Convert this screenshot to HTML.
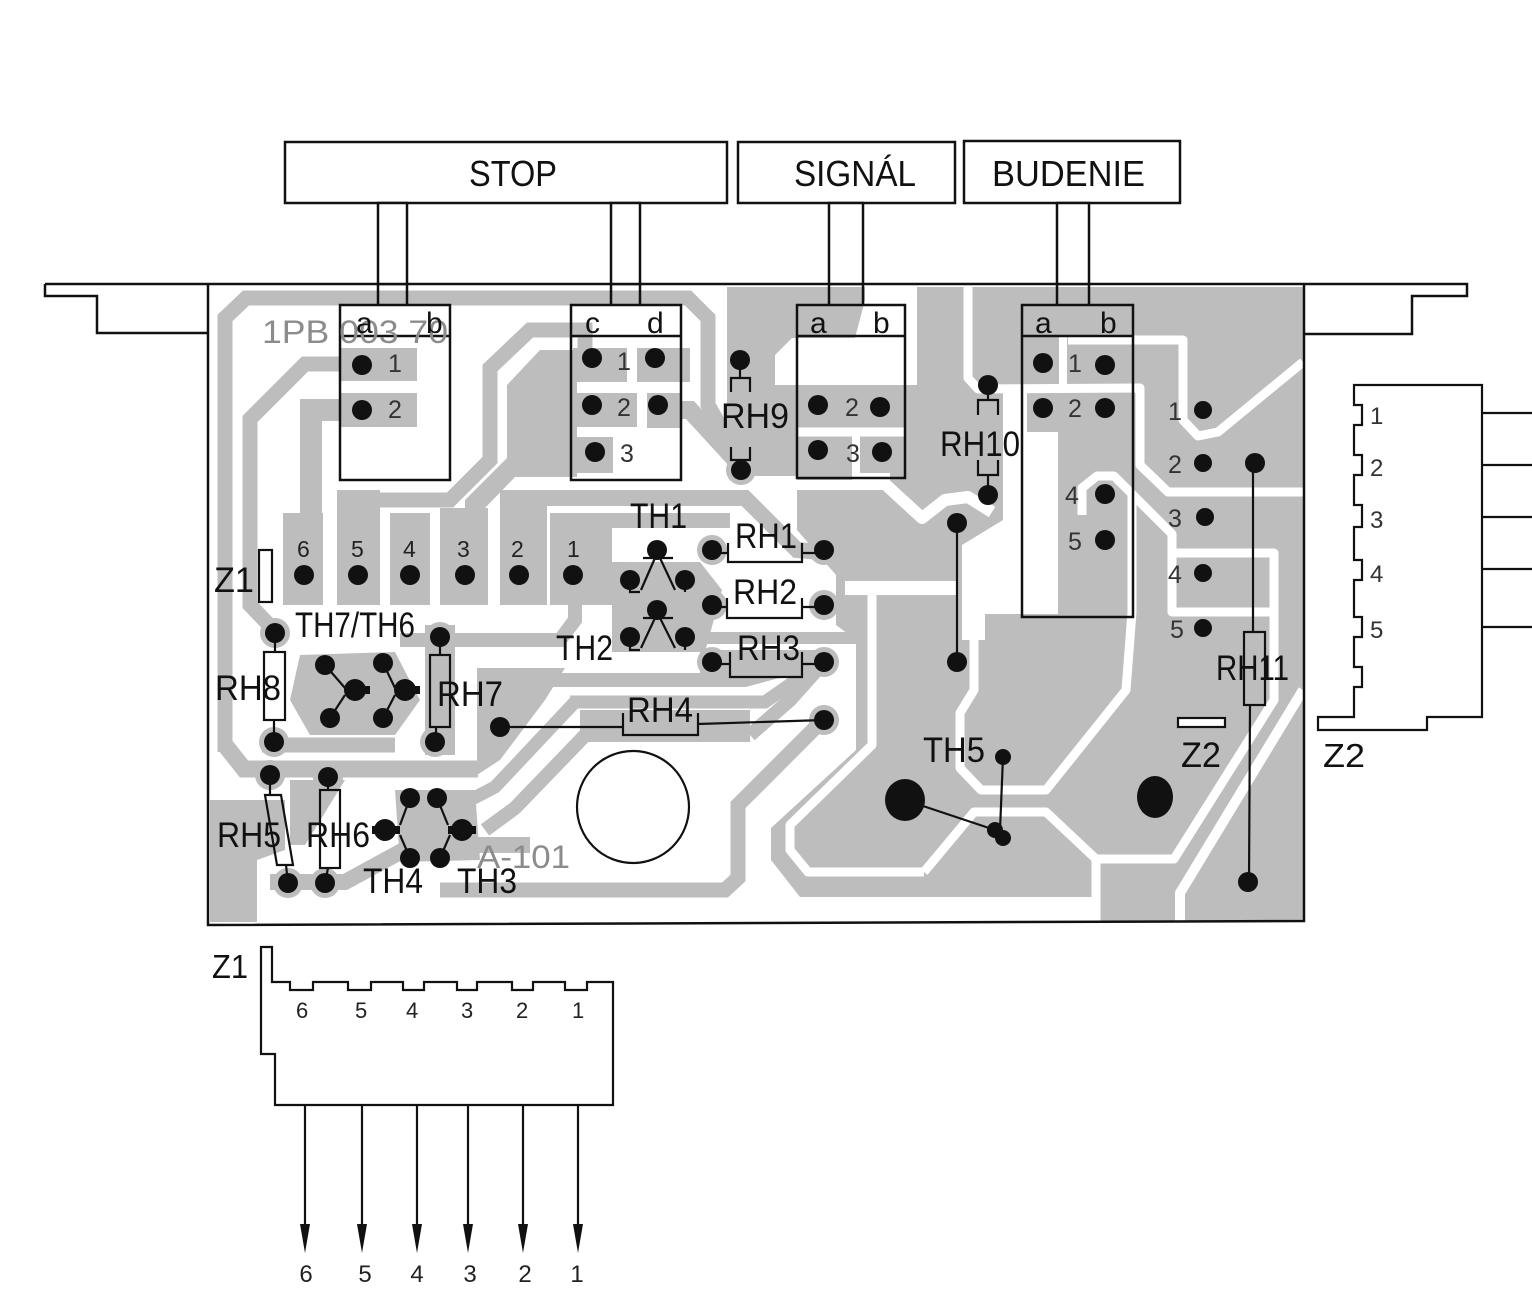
<!DOCTYPE html>
<html><head><meta charset="utf-8"><style>
html,body{margin:0;padding:0;background:#fff;}
svg{display:block;}
text{font-family:"Liberation Sans",sans-serif;}
</style></head><body>
<svg width="1532" height="1303" viewBox="0 0 1532 1303" xmlns="http://www.w3.org/2000/svg">
<defs><clipPath id="bd"><rect x="209" y="285" width="1094" height="638"/></clipPath></defs>
<rect width="1532" height="1303" fill="#fff"/>

<!-- BOARD COPPER -->
<g clip-path="url(#bd)">
<g fill="#bdbdbd" stroke="none">
  <!-- right big area -->
  <polygon points="727,287 1303,287 1303,922 1096,922 1096,897 800,897 771,860 771,828 856,750 856,640 836,625 836,575 797,530 797,476 727,476"/>
</g>
<!-- white cut-outs in right area -->
<g fill="#fff" stroke="none">
  <polygon points="775,385 775,355 792,338 855,338 865,300 865,287 917,287 917,385"/>
  <rect x="852" y="468" width="38" height="14"/>
  <polygon points="1003,392 1027,392 1027,432 1058,432 1058,614 985,614 985,640 962,640 962,545 1003,520"/>
  <rect x="258" y="897" width="838" height="27"/>
</g>
<g fill="none" stroke="#fff" stroke-linejoin="round" stroke-linecap="butt">
  <polyline stroke-width="9" points="797,432 904,432"/>
  <polyline stroke-width="8" points="856,436 856,478"/>
  <polyline stroke-width="12" points="727,484 885,484 922,518 945,500 968,497 992,512"/>
  <polyline stroke-width="9" points="968,287 968,378 978,389 1140,388 1140,465 1168,492 1303,492"/>
  <polyline stroke-width="8" points="1063,337 1063,386"/>
  <polyline stroke-width="9" points="1068,340 1183,340 1183,420 1198,436 1218,432 1303,362"/>
  <polyline stroke-width="9" points="1082,515 1082,488 1097,476 1114,476 1132,494 1172,534 1172,612 1274,612 1274,553 1172,553"/>
  <polyline stroke-width="9" points="1132,494 1132,612 1126,690 1046,790 981,790 960,768 960,713 974,690 974,640"/>
  <polyline stroke-width="9" points="924,872 974,812 1046,812 1096,859 1174,859 1274,700 1274,612"/>
  <polyline stroke-width="10" points="1303,690 1180,893 1180,922"/>
  <polyline stroke-width="9" points="1096,859 1096,922"/>
  <polyline stroke-width="14" points="845,588 957,588"/>
  <polyline stroke-width="9" points="872,595 872,745 790,825 790,850 808,872 924,872"/>
</g>

<!-- left / middle traces -->
<g fill="#bdbdbd" stroke="none">
  <rect x="340" y="348" width="77" height="33"/>
  <rect x="340" y="393" width="77" height="34"/>
  <rect x="283" y="513" width="40" height="92"/>
  <rect x="337" y="490" width="43" height="115"/>
  <rect x="390" y="513" width="40" height="92"/>
  <rect x="440" y="508" width="48" height="97"/>
  <rect x="500" y="490" width="47" height="115"/>
  <rect x="553" y="513" width="57" height="92"/>
  <polygon points="507,385 540,350 577,350 577,477 515,477 485,508 465,508 465,500 507,458"/>
  <rect x="573" y="348" width="54" height="34"/>
  <rect x="637" y="348" width="53" height="34"/>
  <rect x="577" y="393" width="60" height="34"/>
  <rect x="647" y="393" width="35" height="35"/>
  <rect x="577" y="437" width="36" height="36"/>
  <rect x="797" y="387" width="105" height="40"/>
  <rect x="797" y="437" width="55" height="43"/>
  <rect x="860" y="437" width="42" height="36"/>
  <polygon points="550,513 730,513 730,528 612,528 612,605 550,605"/>
  <polygon points="612,562 700,562 722,590 705,652 612,652"/>
  <rect x="700" y="650" width="115" height="27"/>
  <polygon points="477,668 565,668 545,700 500,760 477,775"/>
  <rect x="580" y="710" width="170" height="32"/>
  <polygon points="300,655 395,652 420,700 395,735 310,735 290,700"/>
  <rect x="425" y="625" width="30" height="130"/>
  <polygon points="210,800 285,800 285,850 257,860 257,922 210,922"/>
  <polygon points="290,780 345,780 305,845 290,845"/>
  <polygon points="395,790 475,790 480,860 400,862"/>
</g>
<g fill="none" stroke="#bdbdbd" stroke-linejoin="miter">
  <polyline stroke-width="15" points="225,752 225,318 246,298 688,298 708,318 708,405 745,470"/>
  <polyline stroke-width="17" points="225,745 244,769 478,769"/>
  <polyline stroke-width="15" points="345,364 305,364 250,419 250,605 272,628"/>
  <polyline stroke-width="22" points="345,410 311,410 311,520"/>
  <polyline stroke-width="15" points="358,500 450,500 490,460 490,368 530,330 585,330 585,352"/>
  <polyline stroke-width="18" points="670,410 690,410 745,470"/>
  <polyline stroke-width="16" points="523,605 523,498 745,498 797,550 822,552"/>
  <polyline stroke-width="12" points="690,638 856,638"/>
  <polyline stroke-width="14" points="477,680 745,680 800,665"/>
  <polyline stroke-width="13" points="570,702 765,702 815,667"/>
  <polyline stroke-width="13" points="575,702 495,787 470,800"/>
  <polyline stroke-width="14" points="595,725 515,808 485,830"/>
  <polyline stroke-width="14" points="824,662 790,700 750,735"/>
  <polyline stroke-width="15" points="823,720 738,805 738,878 725,890 440,890"/>
  <polyline stroke-width="14" points="400,640 560,640 575,620 575,605"/>
  <polyline stroke-width="15" points="262,745 395,745"/>
  <polyline stroke-width="16" points="270,882 345,882 413,845 530,845"/>
</g>
<!-- pad rings -->
<g fill="#bdbdbd">
  <circle cx="712" cy="550" r="15"/><circle cx="824" cy="550" r="15"/>
  <circle cx="712" cy="605" r="15"/><circle cx="824" cy="605" r="15"/>
  <circle cx="712" cy="662" r="15"/><circle cx="824" cy="662" r="15"/>
  <circle cx="500" cy="727" r="15"/><circle cx="824" cy="720" r="15"/>
  <circle cx="741" cy="470" r="15"/><circle cx="957" cy="523" r="15"/>
  <circle cx="275" cy="633" r="15"/><circle cx="274" cy="742" r="15"/>
  <circle cx="440" cy="637" r="15"/><circle cx="435" cy="742" r="15"/>
  <circle cx="270" cy="775" r="15"/><circle cx="328" cy="777" r="15"/>
  <circle cx="288" cy="883" r="15"/><circle cx="325" cy="883" r="15"/>
  <circle cx="630" cy="580" r="14"/><circle cx="685" cy="580" r="14"/>
  <circle cx="630" cy="637" r="14"/><circle cx="685" cy="637" r="14"/>
</g>
</g>

<!-- PANEL & BOARD OUTLINE -->
<g fill="none" stroke="#111" stroke-width="2.5" stroke-linejoin="miter">
  <path d="M45,284 H1467 V296 H1412 V334 H1305"/>
  <path d="M45,284 V296 H97 V333 H207"/>
  <path d="M208,284 V925 L1304,921 V284"/>
</g>

<!-- BUTTONS -->
<g fill="#fff" stroke="#111" stroke-width="2.5">
  <rect x="285" y="142" width="442" height="61"/>
  <rect x="738" y="142" width="217" height="61"/>
  <rect x="964" y="141" width="216" height="62"/>
  <rect x="378" y="203" width="29" height="81"/>
  <rect x="611" y="203" width="29" height="81"/>
  <rect x="829" y="203" width="34" height="81"/>
  <rect x="1057" y="203" width="32" height="81"/>
</g>
<g stroke="#111" stroke-width="2.5">
  <line x1="378" y1="284" x2="378" y2="305"/><line x1="407" y1="284" x2="407" y2="305"/>
  <line x1="611" y1="284" x2="611" y2="305"/><line x1="640" y1="284" x2="640" y2="305"/>
  <line x1="829" y1="284" x2="829" y2="305"/><line x1="863" y1="284" x2="863" y2="305"/>
  <line x1="1057" y1="284" x2="1057" y2="305"/><line x1="1089" y1="284" x2="1089" y2="305"/>
</g>
<g font-size="36" fill="#111">
  <text x="469" y="186" textLength="88" lengthAdjust="spacingAndGlyphs">STOP</text>
  <text x="794" y="186" textLength="122" lengthAdjust="spacingAndGlyphs">SIGNÁL</text>
  <text x="992" y="186" textLength="153" lengthAdjust="spacingAndGlyphs">BUDENIE</text>
</g>

<!-- SWITCH BOXES -->
<g fill="none" stroke="#111" stroke-width="2.5">
  <rect x="340" y="305" width="110" height="175"/><line x1="340" y1="336" x2="450" y2="336"/>
  <rect x="571" y="305" width="110" height="175"/><line x1="571" y1="336" x2="681" y2="336"/>
  <rect x="797" y="305" width="108" height="173"/><line x1="797" y1="336" x2="905" y2="336"/>
  <rect x="1022" y="305" width="111" height="312"/><line x1="1022" y1="336" x2="1133" y2="336"/>
</g>
<text x="262" y="343" font-size="32" fill="#8c8c8c" textLength="186" lengthAdjust="spacingAndGlyphs">1PB 003 70</text>
<g font-size="30" fill="#111">
  <text x="356" y="333">a</text><text x="426" y="333">b</text>
  <text x="585" y="333">c</text><text x="647" y="333">d</text>
  <text x="810" y="333">a</text><text x="873" y="333">b</text>
  <text x="1035" y="333">a</text><text x="1100" y="333">b</text>
</g>
<g font-size="25" fill="#333">
  <text x="388" y="372">1</text><text x="388" y="418">2</text>
  <text x="617" y="370">1</text><text x="617" y="416">2</text><text x="620" y="462">3</text>
  <text x="845" y="416">2</text><text x="846" y="462">3</text>
  <text x="1068" y="372">1</text><text x="1068" y="417">2</text><text x="1065" y="504">4</text><text x="1068" y="550">5</text>
  <text x="1168" y="420">1</text><text x="1168" y="473">2</text><text x="1168" y="527">3</text><text x="1168" y="583">4</text><text x="1170" y="638">5</text>
</g>
<g font-size="23" fill="#222">
  <text x="297" y="557">6</text><text x="351" y="557">5</text><text x="403" y="557">4</text>
  <text x="457" y="557">3</text><text x="511" y="557">2</text><text x="567" y="557">1</text>
</g>

<!-- COMPONENT OUTLINES -->
<g fill="none" stroke="#111" stroke-width="2.2">
  <rect x="259" y="550" width="13" height="52" fill="#fff"/>
  <rect x="1178" y="718" width="47" height="9" fill="#fff"/>
  <path d="M728,543 V562 H802 V543 M712,553 H728 M802,553 H824" />
  <path d="M727,598 V618 H802 V598 M712,607 H727 M802,607 H824" />
  <path d="M730,652 V677 H802 V652 M712,664 H730 M802,664 H824" />
  <path d="M623,713 V735 H698 V713 M500,727 H623 M698,724 L824,720" />
  <path d="M731,392 V378 H750 V392 M740,360 V378 M731,447 V460 H750 V447 M740,460 V470"/>
  <path d="M978,415 V400 H998 V415 M988,385 V400 M978,460 V475 H998 V460 M988,475 V495"/>
  <rect x="264" y="652" width="21" height="68"/><path d="M275,633 V652 M274,720 V742"/>
  <rect x="430" y="655" width="20" height="72"/><path d="M440,637 V655 M436,727 V742"/>
  <polygon points="265,795 281,795 293,865 277,865"/><path d="M270,775 V795 M286,865 L288,883"/>
  <rect x="320" y="790" width="20" height="78"/><path d="M328,777 V790 M328,868 L325,883"/>
  <path d="M1253,463 V632 M1250,705 L1249,882"/>
  <rect x="1244" y="632" width="21" height="73"/>
  <path d="M957,523 V662"/>
  <path d="M1003,757 L1000,830 M905,800 L995,830"/>
  <ellipse cx="633" cy="807" rx="56" ry="56"/>
  <path d="M643,558 H673 M655,558 L641,590 M660,558 L675,590 M630,580 V592 H640 M685,580 V592"/>
  <path d="M643,618 H673 M655,618 L641,648 M660,618 L675,648 M630,637 V650 H640 M685,637 V650"/>
  <path d="M325,665 L345,688 M330,718 L345,695 M383,663 L395,688 M383,718 L395,695"/>
  <path d="M410,798 L400,825 M437,798 L448,825 M410,858 L400,835 M440,858 L450,835"/>
</g>

<!-- PADS -->
<g fill="#111">
  <circle cx="362" cy="365" r="10"/><circle cx="362" cy="410" r="10"/>
  <circle cx="592" cy="358" r="10"/><circle cx="655" cy="358" r="10"/>
  <circle cx="592" cy="405" r="10"/><circle cx="658" cy="405" r="10"/><circle cx="595" cy="452" r="10"/>
  <circle cx="818" cy="405" r="10"/><circle cx="880" cy="407" r="10"/>
  <circle cx="818" cy="450" r="10"/><circle cx="882" cy="452" r="10"/>
  <circle cx="1043" cy="363" r="10"/><circle cx="1105" cy="365" r="10"/>
  <circle cx="1043" cy="408" r="10"/><circle cx="1105" cy="408" r="10"/>
  <circle cx="1105" cy="494" r="10"/><circle cx="1105" cy="540" r="10"/>
  <circle cx="1203" cy="410" r="9"/><circle cx="1203" cy="463" r="9"/><circle cx="1205" cy="517" r="9"/>
  <circle cx="1203" cy="573" r="9"/><circle cx="1203" cy="628" r="9"/>
  <circle cx="1255" cy="463" r="10"/><circle cx="1248" cy="882" r="10"/>
  <circle cx="740" cy="360" r="10"/><circle cx="741" cy="470" r="10"/>
  <circle cx="988" cy="385" r="10"/><circle cx="988" cy="495" r="10"/>
  <circle cx="957" cy="523" r="10"/><circle cx="957" cy="662" r="10"/>
  <circle cx="304" cy="575" r="10"/><circle cx="358" cy="575" r="10"/><circle cx="410" cy="575" r="10"/>
  <circle cx="465" cy="575" r="10"/><circle cx="519" cy="575" r="10"/><circle cx="573" cy="575" r="10"/>
  <circle cx="657" cy="550" r="10"/><circle cx="630" cy="580" r="10"/><circle cx="685" cy="580" r="10"/>
  <circle cx="657" cy="610" r="10"/><circle cx="630" cy="637" r="10"/><circle cx="685" cy="637" r="10"/>
  <circle cx="712" cy="550" r="10"/><circle cx="824" cy="550" r="10"/>
  <circle cx="712" cy="605" r="10"/><circle cx="824" cy="605" r="10"/>
  <circle cx="712" cy="662" r="10"/><circle cx="824" cy="662" r="10"/>
  <circle cx="500" cy="727" r="10"/><circle cx="824" cy="720" r="10"/>
  <circle cx="275" cy="633" r="10"/><circle cx="274" cy="742" r="10"/>
  <circle cx="440" cy="637" r="10"/><circle cx="435" cy="742" r="10"/>
  <circle cx="325" cy="665" r="10"/><circle cx="383" cy="663" r="10"/>
  <circle cx="330" cy="718" r="10"/><circle cx="383" cy="718" r="10"/>
  <circle cx="355" cy="690" r="11"/><circle cx="405" cy="690" r="11"/>
  <rect x="346" y="686" width="24" height="8"/><rect x="396" y="686" width="24" height="8"/>
  <circle cx="270" cy="775" r="10"/><circle cx="328" cy="777" r="10"/>
  <circle cx="288" cy="883" r="10"/><circle cx="325" cy="883" r="10"/>
  <circle cx="410" cy="798" r="10"/><circle cx="437" cy="798" r="10"/>
  <circle cx="385" cy="830" r="11"/><circle cx="462" cy="830" r="11"/>
  <rect x="372" y="826" width="28" height="8"/><rect x="448" y="826" width="28" height="8"/>
  <circle cx="410" cy="858" r="10"/><circle cx="440" cy="858" r="10"/>
  <circle cx="1003" cy="757" r="8"/>
  <circle cx="995" cy="830" r="8"/><circle cx="1003" cy="838" r="8"/>
  <ellipse cx="905" cy="800" rx="20" ry="21"/>
  <ellipse cx="1155" cy="797" rx="18" ry="21"/>
</g>

<!-- COMPONENT LABELS -->
<g font-size="35" fill="#111">
  <text x="215" y="700" textLength="66" lengthAdjust="spacingAndGlyphs">RH8</text>
  <text x="721" y="428" textLength="68" lengthAdjust="spacingAndGlyphs">RH9</text>
  <text x="940" y="456" textLength="80" lengthAdjust="spacingAndGlyphs">RH10</text>
  <text x="735" y="548" textLength="62" lengthAdjust="spacingAndGlyphs">RH1</text>
  <text x="733" y="604" textLength="64" lengthAdjust="spacingAndGlyphs">RH2</text>
  <text x="737" y="660" textLength="63" lengthAdjust="spacingAndGlyphs">RH3</text>
  <text x="627" y="722" textLength="66" lengthAdjust="spacingAndGlyphs">RH4</text>
  <text x="437" y="706" textLength="66" lengthAdjust="spacingAndGlyphs">RH7</text>
  <text x="217" y="847" textLength="64" lengthAdjust="spacingAndGlyphs">RH5</text>
  <text x="306" y="847" textLength="64" lengthAdjust="spacingAndGlyphs">RH6</text>
  <text x="630" y="528" textLength="57" lengthAdjust="spacingAndGlyphs">TH1</text>
  <text x="556" y="660" textLength="57" lengthAdjust="spacingAndGlyphs">TH2</text>
  <text x="295" y="637" textLength="120" lengthAdjust="spacingAndGlyphs">TH7/TH6</text>
  <text x="363" y="893" textLength="60" lengthAdjust="spacingAndGlyphs">TH4</text>
  <text x="457" y="893" textLength="60" lengthAdjust="spacingAndGlyphs">TH3</text>
  <text x="923" y="762" textLength="62" lengthAdjust="spacingAndGlyphs">TH5</text>
  <text x="1216" y="680" textLength="73" lengthAdjust="spacingAndGlyphs">RH11</text>
  <text x="1181" y="767" textLength="40" lengthAdjust="spacingAndGlyphs">Z2</text>
  <text x="214" y="592" textLength="40" lengthAdjust="spacingAndGlyphs">Z1</text>
</g>
<text x="477" y="868" font-size="32" fill="#8c8c8c" textLength="93" lengthAdjust="spacingAndGlyphs">A-101</text>

<!-- Z2 CONNECTOR -->
<g fill="none" stroke="#111" stroke-width="2.2">
  <path d="M1354,385 V405 H1362 V425 H1354 V455 H1362 V475 H1354 V505 H1362 V527 H1354 V560 H1362 V580 H1354 V617 H1362 V637 H1354 V667 H1362 V687 H1354 V717 H1318 V730 H1427 V717 H1482 V385 Z"/>
  <path d="M1482,413 H1532 M1482,465 H1532 M1482,517 H1532 M1482,569 H1532 M1482,627 H1532"/>
</g>
<g font-size="24" fill="#333">
  <text x="1370" y="424">1</text><text x="1370" y="476">2</text><text x="1370" y="528">3</text>
  <text x="1370" y="582">4</text><text x="1370" y="638">5</text>
</g>
<text x="1323" y="767" font-size="33" fill="#111" textLength="42" lengthAdjust="spacingAndGlyphs">Z2</text>

<!-- Z1 CONNECTOR -->
<g fill="none" stroke="#111" stroke-width="2.2">
  <path d="M261,947 H272 V982 H290 V990 H313 V982 H348 V990 H371 V982 H403 V990 H424 V982 H457 V990 H477 V982 H512 V990 H533 V982 H565 V990 H587 V982 H613 V1105 H275 V1054 H261 Z"/>
  <path d="M305,1105 V1230 M362,1105 V1230 M417,1105 V1230 M468,1105 V1230 M523,1105 V1230 M578,1105 V1230"/>
</g>
<g fill="#111">
  <polygon points="300,1224 310,1224 305,1253"/><polygon points="357,1224 367,1224 362,1253"/>
  <polygon points="412,1224 422,1224 417,1253"/><polygon points="463,1224 473,1224 468,1253"/>
  <polygon points="518,1224 528,1224 523,1253"/><polygon points="573,1224 583,1224 578,1253"/>
</g>
<text x="212" y="978" font-size="33" fill="#111" textLength="36" lengthAdjust="spacingAndGlyphs">Z1</text>
<g font-size="22" fill="#222">
  <text x="296" y="1018">6</text><text x="355" y="1018">5</text><text x="406" y="1018">4</text>
  <text x="461" y="1018">3</text><text x="516" y="1018">2</text><text x="572" y="1018">1</text>
</g>
<g font-size="24" fill="#222" text-anchor="middle">
  <text x="306" y="1282">6</text><text x="365" y="1282">5</text><text x="417" y="1282">4</text>
  <text x="470" y="1282">3</text><text x="525" y="1282">2</text><text x="577" y="1282">1</text>
</g>
</svg>
</body></html>
